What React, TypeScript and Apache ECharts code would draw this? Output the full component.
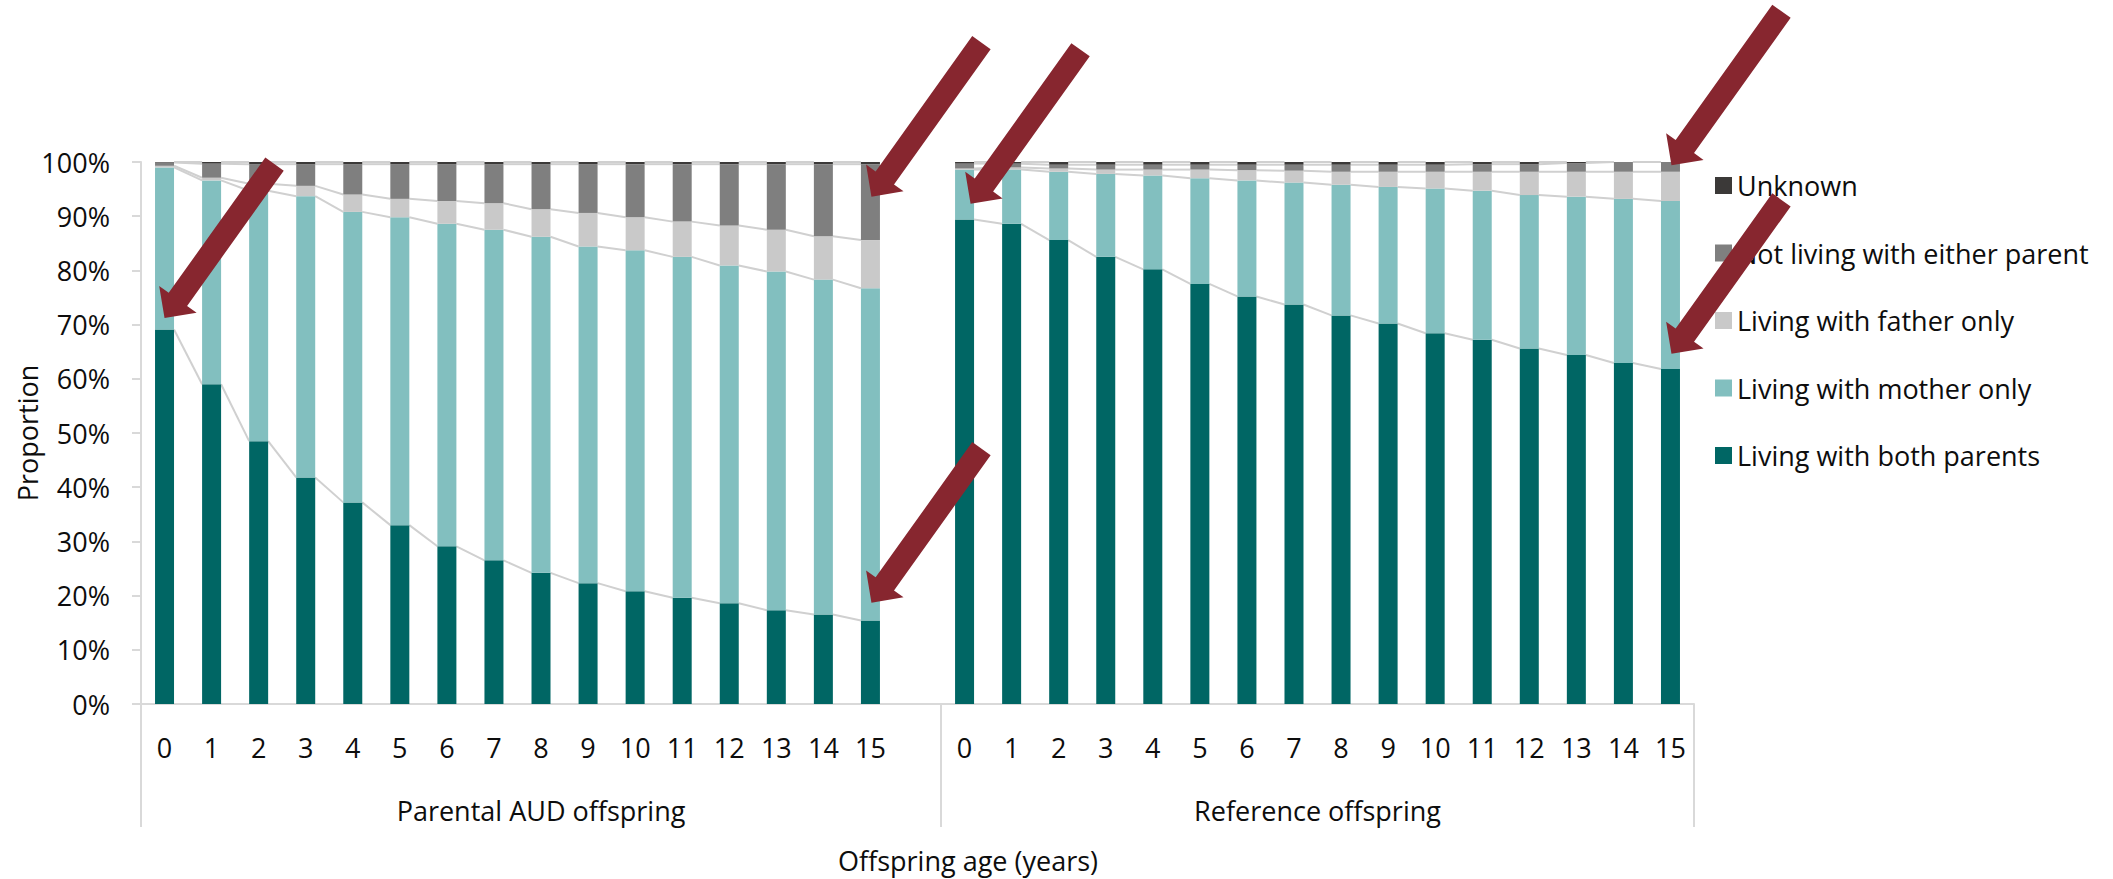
import React, { useEffect, useRef } from 'react';
import * as echarts from 'echarts';

// ---------- data ----------
const ages = ['0', '1', '2', '3', '4', '5', '6', '7', '8', '9', '10', '11', '12', '13', '14', '15'];
const groupNames = ['Parental AUD offspring', 'Reference offspring'];
const seriesNames = [
  'Living with both parents',
  'Living with mother only',
  'Living with father only',
  'Not living with either parent',
  'Unknown',
];
const seriesColors = ['#006664', '#82BFBF', '#C9C9C9', '#7F7F7F', '#3B3938'];

// Parental AUD offspring (%)
const audBoth = [69.1, 59.0, 48.5, 41.8, 37.2, 33.0, 29.1, 26.5, 24.2, 22.3, 20.8, 19.6, 18.6, 17.3, 16.5, 15.4];
const audMother = [29.9, 37.6, 46.2, 51.9, 53.6, 56.8, 59.5, 61.0, 62.0, 62.1, 62.9, 62.9, 62.3, 62.5, 61.8, 61.3];
const audFather = [0.3, 0.5, 1.3, 1.9, 3.2, 3.4, 4.2, 4.9, 5.1, 6.2, 6.1, 6.5, 7.4, 7.7, 8.0, 8.9];
const audNeither = [0.6, 2.6, 3.6, 4.0, 5.6, 6.4, 6.8, 7.2, 8.3, 9.0, 9.8, 10.6, 11.3, 12.1, 13.3, 14.0];
const audUnknown = [0.1, 0.3, 0.4, 0.4, 0.4, 0.4, 0.4, 0.4, 0.4, 0.4, 0.4, 0.4, 0.4, 0.4, 0.4, 0.4];

// Reference offspring (%)
const refBoth = [89.4, 88.6, 85.6, 82.5, 80.2, 77.5, 75.2, 73.7, 71.7, 70.2, 68.4, 67.2, 65.6, 64.4, 62.9, 61.8];
const refMother = [9.2, 10.0, 12.6, 15.3, 17.3, 19.5, 21.4, 22.5, 24.1, 25.2, 26.7, 27.5, 28.3, 29.2, 30.3, 31.0];
const refFather = [0.2, 0.4, 0.6, 0.8, 1.1, 1.6, 1.9, 2.2, 2.4, 2.8, 3.1, 3.5, 4.3, 4.6, 5.0, 5.4];
const refNeither = [0.9, 0.7, 0.7, 0.9, 0.9, 0.9, 1.0, 1.1, 1.3, 1.3, 1.3, 1.4, 1.4, 1.6, 1.8, 1.8];
const refUnknown = [0.3, 0.3, 0.5, 0.5, 0.5, 0.5, 0.5, 0.5, 0.5, 0.5, 0.5, 0.4, 0.4, 0.2, 0.0, 0.0];

const yTicks = [0, 10, 20, 30, 40, 50, 60, 70, 80, 90, 100];

// arrow annotations: [category index, value (%), x offset px]
const arrowAnchors: [number, number, number][] = [
  [0, 71.2, 0],
  [15, 93.6, 1],
  [17, 92.3, 6],
  [15, 18.7, 1],
  [32, 99.4, 1],
  [32, 64.6, 1],
];

// ---------- derived ----------
const categories = [...ages, '', ...ages];
const joinGroups = (a: number[], b: number[]) => [...a, null, ...b] as (number | null)[];
const seriesValues = [
  joinGroups(audBoth, refBoth),
  joinGroups(audMother, refMother),
  joinGroups(audFather, refFather),
  joinGroups(audNeither, refNeither),
  joinGroups(audUnknown, refUnknown),
];

const cumulative = seriesValues.map((_, k) =>
  categories.map((__, i) => {
    if (seriesValues[0][i] == null) return null;
    let s = 0;
    for (let j = 0; j <= k; j++) s += seriesValues[j][i] as number;
    return s;
  })
);

const seriesLineData: number[][] = [];
cumulative.forEach((cum) => {
  for (let i = 0; i < categories.length - 1; i++) {
    if (cum[i] != null && cum[i + 1] != null) {
      seriesLineData.push([i, cum[i] as number, cum[i + 1] as number]);
    }
  }
});

const FONT = "'Open Sans', 'Noto Sans', sans-serif";
const TEXT = '#0D0D0D';
const AXIS = '#D9D9D9';
const BAR_W = 19;
const ARROW = '#87262F';

function arrowPoints(tx: number, ty: number) {
  const len = Math.hypot(110, 154);
  const ax = 110 / len, ay = -154 / len; // from tip toward tail
  const px = 154 / len, py = 110 / len; // perpendicular
  const P = (a: number, w: number) => [tx + a * ax + w * px, ty + a * ay + w * py];
  return [P(0, 0), P(23, 23), P(23, 11.3), P(len, 11.3), P(len, -11.3), P(23, -11.3), P(23, -23)];
}

export default function App() {
  const ref = useRef<HTMLDivElement>(null);

  useEffect(() => {
    if (!ref.current) return;
    const chart = echarts.init(ref.current, undefined, { renderer: 'svg' });

    const option: any = {
      animation: false,
      backgroundColor: '#ffffff',
      textStyle: { fontFamily: FONT },
      grid: { left: 141, right: 419, top: 162, bottom: 175, containLabel: false },
      legend: {
        orient: 'vertical',
        left: 1710,
        top: 167,
        itemWidth: 17,
        itemHeight: 17,
        itemGap: 40.5,
        icon: 'rect',
        data: [...seriesNames].reverse(),
        textStyle: { fontFamily: FONT, fontSize: 27, color: TEXT },
        selectedMode: false,
      },
      xAxis: {
        type: 'category',
        data: categories,
        boundaryGap: true,
        axisLine: { show: true, lineStyle: { color: AXIS, width: 2 } },
        axisTick: {
          show: true,
          length: 123,
          interval: (i: number) => i === 0 || i === ages.length + 1,
          lineStyle: { color: AXIS, width: 2 },
        },
        axisLabel: { interval: 0, margin: 30, fontFamily: FONT, fontSize: 27, color: TEXT },
        splitLine: { show: false },
      },
      yAxis: {
        type: 'value',
        min: 0,
        max: 100,
        interval: 10,
        axisLine: { show: true, lineStyle: { color: AXIS, width: 2 } },
        axisTick: { show: true, length: 9, lineStyle: { color: AXIS, width: 2 } },
        axisLabel: {
          margin: 31,
          fontFamily: FONT,
          fontSize: 27,
          color: TEXT,
          formatter: (v: number) => (yTicks.includes(v) ? `${v}%` : ''),
        },
        splitLine: { show: false },
      },
      series: [
        ...seriesNames.map((name, k) => ({
          name,
          type: 'bar',
          stack: 'total',
          barWidth: BAR_W,
          itemStyle: { color: seriesColors[k] },
          data: seriesValues[k],
          z: 2,
        })),
        {
          type: 'custom',
          name: 'series lines',
          silent: true,
          z: 1,
          encode: { x: 0, y: 1 },
          data: seriesLineData,
          renderItem: (_params: any, api: any) => {
            const i = api.value(0);
            const p0 = api.coord([i, api.value(1)]);
            const p1 = api.coord([i + 1, api.value(2)]);
            return {
              type: 'line',
              shape: { x1: p0[0] + BAR_W / 2, y1: p0[1], x2: p1[0] - BAR_W / 2, y2: p1[1] },
              style: { stroke: '#D0D0D0', lineWidth: 2 },
            };
          },
        },
      ],
    };
    chart.setOption(option);

    const px = (c: number, v: number) => chart.convertToPixel({ gridIndex: 0 } as any, [c, v]) as number[];
    const base = px(0, 0);
    const g1 = (px(0, 0)[0] + px(ages.length, 0)[0]) / 2;
    const g2 = (px(ages.length + 1, 0)[0] + px(categories.length - 1, 0)[0]) / 2;
    const top = px(0, 100)[1];

    const elements: any[] = [
      {
        type: 'text',
        x: g1,
        y: base[1] + 106,
        z: 50,
        style: { text: groupNames[0], fontFamily: FONT, fontSize: 27, fill: TEXT, align: 'center', verticalAlign: 'middle' },
      },
      {
        type: 'text',
        x: g2,
        y: base[1] + 106,
        z: 50,
        style: { text: groupNames[1], fontFamily: FONT, fontSize: 27, fill: TEXT, align: 'center', verticalAlign: 'middle' },
      },
      {
        type: 'text',
        x: 968,
        y: base[1] + 156,
        z: 50,
        style: { text: 'Offspring age (years)', fontFamily: FONT, fontSize: 27, fill: TEXT, align: 'center', verticalAlign: 'middle' },
      },
      {
        type: 'text',
        x: 27,
        y: (top + base[1]) / 2,
        rotation: Math.PI / 2,
        z: 50,
        style: { text: 'Proportion', fontFamily: FONT, fontSize: 27, fill: TEXT, align: 'center', verticalAlign: 'middle' },
      },
      ...arrowAnchors.map(([c, v, dx]) => {
        const p = px(c, v);
        return {
          type: 'polygon',
          z: 100,
          shape: { points: arrowPoints(p[0] + dx, p[1]) },
          style: { fill: ARROW },
        };
      }),
    ];
    chart.setOption({ graphic: { elements } });

    return () => chart.dispose();
  }, []);

  return (
    <div
      ref={ref}
      style={{ position: 'fixed', left: 0, top: 0, width: '2113px', height: '879px', background: '#fff' }}
    />
  );
}
